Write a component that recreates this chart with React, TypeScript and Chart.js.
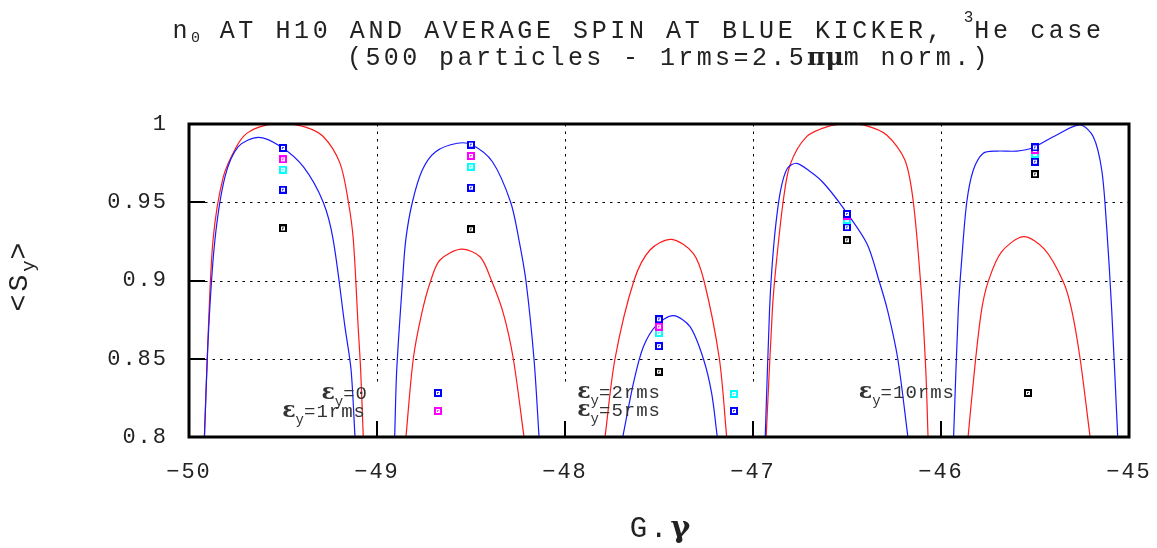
import React, { useEffect, useRef } from 'react';
import { Chart, registerables } from 'chart.js';

Chart.register(...registerables);

// ---------- data ----------
const resonanceGG = [-49.5, -48.5, -47.5, -46.5, -45.5];
const spinEps0 = [0.9847, 0.9868, 0.8752, 0.9425, 0.985];
const spinEps1 = [0.9774, 0.9796, 0.8705, 0.9412, 0.9834];
const spinEps2 = [0.9708, 0.9727, 0.8664, 0.9387, 0.9808];
const spinEps5 = [0.958, 0.9593, 0.8581, 0.934, 0.9759];
const spinEps10 = [0.9333, 0.9327, 0.8417, 0.9257, 0.9679];

const xTickValues = [-50, -49, -48, -47, -46, -45];
const yTickValues = [0.8, 0.85, 0.9, 0.95, 1.0];

const redRes1: [number, number][] = [
  [-49.918, 0.8], [-49.9, 0.86], [-49.872, 0.926], [-49.818, 0.966], [-49.75, 0.985],
  [-49.693, 0.994], [-49.6, 0.999], [-49.49, 1.0], [-49.38, 0.998], [-49.286, 0.992],
  [-49.197, 0.975], [-49.152, 0.95], [-49.126, 0.926], [-49.1, 0.87], [-49.087, 0.843], [-49.073, 0.8],
];
const redRes2: [number, number][] = [
  [-48.846, 0.8], [-48.807, 0.85], [-48.762, 0.879], [-48.714, 0.9], [-48.665, 0.9131],
  [-48.553, 0.92], [-48.452, 0.9152], [-48.391, 0.9], [-48.328, 0.879], [-48.275, 0.85], [-48.218, 0.8],
];
const redRes3: [number, number][] = [
  [-47.787, 0.8], [-47.734, 0.85], [-47.633, 0.9], [-47.548, 0.9195], [-47.433, 0.9263],
  [-47.318, 0.9174], [-47.261, 0.9], [-47.179, 0.85], [-47.14, 0.8],
];
const redRes4: [number, number][] = [
  [-46.93, 0.8], [-46.897, 0.8812], [-46.878, 0.9088], [-46.84, 0.95], [-46.803, 0.9738],
  [-46.715, 0.9919], [-46.6, 0.9985], [-46.502, 1.0], [-46.4, 0.999], [-46.289, 0.993],
  [-46.192, 0.977], [-46.147, 0.95], [-46.103, 0.8897], [-46.08, 0.84], [-46.069, 0.8],
];
const redRes5: [number, number][] = [
  [-45.856, 0.8], [-45.82, 0.845], [-45.784, 0.8812], [-45.749, 0.8993], [-45.68, 0.918],
  [-45.562, 0.928], [-45.45, 0.92], [-45.35, 0.8993], [-45.305, 0.8812], [-45.26, 0.85], [-45.207, 0.8],
];

const blueRes1: [number, number][] = [
  [-49.918, 0.8], [-49.895, 0.87], [-49.862, 0.926], [-49.809, 0.966], [-49.738, 0.9855],
  [-49.631, 0.9915], [-49.511, 0.9855], [-49.392, 0.9727], [-49.286, 0.95], [-49.233, 0.926],
  [-49.17, 0.87], [-49.138, 0.843], [-49.117, 0.8],
];
const blueRes2: [number, number][] = [
  [-48.906, 0.8], [-48.895, 0.843], [-48.864, 0.9], [-48.847, 0.926], [-48.812, 0.95],
  [-48.759, 0.9706], [-48.688, 0.9823], [-48.573, 0.9877], [-48.493, 0.9866], [-48.386, 0.9759],
  [-48.289, 0.95], [-48.245, 0.926], [-48.208, 0.9], [-48.165, 0.85], [-48.138, 0.8],
];
const blueRes3: [number, number][] = [
  [-47.693, 0.8], [-47.633, 0.836], [-47.583, 0.8577], [-47.512, 0.8716], [-47.424, 0.8775],
  [-47.335, 0.8705], [-47.264, 0.85], [-47.22, 0.828], [-47.19, 0.8],
];
const blueRes4: [number, number][] = [
  [-46.935, 0.8], [-46.912, 0.8812], [-46.9, 0.9067], [-46.88, 0.9344], [-46.853, 0.9578],
  [-46.817, 0.9717], [-46.768, 0.9749], [-46.7, 0.97], [-46.631, 0.9631], [-46.525, 0.9472],
  [-46.395, 0.9238], [-46.33, 0.9], [-46.285, 0.8812], [-46.23, 0.85], [-46.176, 0.8],
];
const blueRes5: [number, number][] = [
  [-45.933, 0.8], [-45.908, 0.8812], [-45.89, 0.913], [-45.863, 0.95], [-45.828, 0.9706],
  [-45.775, 0.9813], [-45.704, 0.9827], [-45.597, 0.9827], [-45.509, 0.985], [-45.385, 0.993],
  [-45.261, 0.9994], [-45.19, 0.9919], [-45.145, 0.9706], [-45.119, 0.9344], [-45.092, 0.8812], [-45.06, 0.8],
];

const redCurves = [redRes1, redRes2, redRes3, redRes4, redRes5];
const blueCurves = [blueRes1, blueRes2, blueRes3, blueRes4, blueRes5];

const seriesLabels = ['0', '1rms', '2rms', '5rms', '10rms'];
const seriesColors = ['#0000ff', '#ff00ff', '#00ffff', '#0000ff', '#000000'];
const seriesValues = [spinEps0, spinEps1, spinEps2, spinEps5, spinEps10];

// ---------- styling ----------
const MONO = '"Liberation Mono", monospace';
const SERIF = '"DejaVu Serif", serif';
const TEXT = '#222';

type Seg = { t: string; f: string; ls?: number; dy?: number };

function drawRich(ctx: CanvasRenderingContext2D, segs: Seg[], x: number, y: number, align: 'left' | 'center' | 'right') {
  const widths = segs.map((s) => {
    ctx.font = s.f;
    (ctx as any).letterSpacing = (s.ls || 0) + 'px';
    return ctx.measureText(s.t).width;
  });
  const total = widths.reduce((a, b) => a + b, 0);
  let cx = align === 'center' ? x - total / 2 : align === 'right' ? x - total : x;
  ctx.textAlign = 'left';
  ctx.textBaseline = 'alphabetic';
  segs.forEach((s, i) => {
    ctx.font = s.f;
    (ctx as any).letterSpacing = (s.ls || 0) + 'px';
    ctx.fillText(s.t, cx, y + (s.dy || 0));
    cx += widths[i];
  });
}

function makeMarker(color: string): HTMLCanvasElement {
  const c = document.createElement('canvas');
  c.width = 8;
  c.height = 8;
  const g = c.getContext('2d')!;
  g.fillStyle = color;
  g.fillRect(0, 0, 8, 8);
  g.fillStyle = '#ffffff';
  g.fillRect(2, 2, 4, 4);
  g.fillStyle = color;
  g.globalAlpha = 0.7;
  g.fillRect(3, 3, 2, 1);
  g.fillRect(3, 4, 1, 1);
  return c;
}

const legendItems = [
  { right: 368, base: 399, mx: 438, my: 393, idx: 0 },
  { right: 366, base: 417, mx: 438, my: 411, idx: 1 },
  { right: 661, base: 398, mx: 734, my: 394, idx: 2 },
  { right: 661, base: 416, mx: 734, my: 411, idx: 3 },
  { right: 955, base: 398, mx: 1028, my: 393, idx: 4 },
];

export default function App() {
  const ref = useRef<HTMLCanvasElement>(null);

  useEffect(() => {
    document.body.style.margin = '0';
    const canvas = ref.current!;
    const markers = seriesColors.map(makeMarker);

    const scatterSets = seriesValues.map((vals, i) => ({
      type: 'scatter' as const,
      label: 'eps ' + seriesLabels[i],
      data: resonanceGG.map((g, j) => ({ x: g, y: vals[j] })),
      pointStyle: markers[i],
      pointRadius: 4,
      showLine: false,
    }));
    const curveSet = (pts: [number, number][], color: string) => ({
      type: 'line' as const,
      data: pts.map(([x, y]) => ({ x, y })),
      borderColor: color,
      borderWidth: 1.2,
      pointRadius: 0,
      fill: false,
      showLine: true,
      tension: 0.3,
    });
    const curveSets = [
      ...blueCurves.map((c) => curveSet(c, '#1a1aff')),
      ...redCurves.map((c) => curveSet(c, '#ff1a1a')),
    ];

    const decor = {
      id: 'decor',
      beforeDraw(chart: any) {
        (chart.ctx as any).letterSpacing = '2px';
      },
      beforeDatasetsDraw(chart: any) {
        const { ctx, chartArea: a, scales } = chart;
        const xs = scales.x, ys = scales.y;
        ctx.save();
        (ctx as any).letterSpacing = '0px';
        ctx.strokeStyle = '#000';
        ctx.lineWidth = 1;
        ctx.setLineDash([2.5, 5]);
        const gridBottom = ys.getPixelForValue(0.833);
        xs.ticks.forEach((t: any) => {
          if (t.value <= xs.min || t.value >= xs.max) return;
          const px = Math.round(xs.getPixelForValue(t.value)) + 0.5;
          ctx.beginPath();
          ctx.moveTo(px, a.top);
          ctx.lineTo(px, gridBottom);
          ctx.stroke();
        });
        ys.ticks.forEach((t: any) => {
          if (t.value <= ys.min) return;
          const py = Math.round(ys.getPixelForValue(t.value)) + 0.5;
          ctx.beginPath();
          ctx.moveTo(a.left + 16, py);
          ctx.lineTo(a.right, py);
          ctx.stroke();
        });
        ctx.restore();
      },
      afterDatasetsDraw(chart: any) {
        const { ctx, chartArea: a, scales } = chart;
        const xs = scales.x, ys = scales.y;
        ctx.save();
        ctx.strokeStyle = '#000';
        ctx.lineWidth = 2;
        ctx.setLineDash([]);
        xs.ticks.forEach((t: any) => {
          const px = Math.round(xs.getPixelForValue(t.value));
          ctx.beginPath();
          ctx.moveTo(px, a.bottom);
          ctx.lineTo(px, a.bottom - 16);
          ctx.stroke();
        });
        ys.ticks.forEach((t: any) => {
          const py = Math.round(ys.getPixelForValue(t.value));
          ctx.beginPath();
          ctx.moveTo(a.left, py);
          ctx.lineTo(a.left + 16, py);
          ctx.stroke();
        });
        ctx.lineWidth = 3;
        ctx.strokeRect(a.left, a.top, a.right - a.left, a.bottom - a.top);
        ctx.restore();
      },
      afterDraw(chart: any) {
        const ctx: CanvasRenderingContext2D = chart.ctx;
        ctx.save();
        ctx.fillStyle = TEXT;
        // title
        drawRich(ctx, [
          { t: 'n', f: `25px ${MONO}`, ls: 3.6 },
          { t: '0', f: `15px ${MONO}`, ls: 1, dy: 4.5 },
          { t: ' AT H10 AND AVERAGE SPIN AT BLUE KICKER, ', f: `25px ${MONO}`, ls: 3.6 },
          { t: '3', f: `16px ${MONO}`, ls: 1, dy: -16 },
          { t: 'He case', f: `25px ${MONO}`, ls: 3.6 },
        ], 638.5, 37.5, 'center');
        drawRich(ctx, [
          { t: '(500 particles - 1rms=2.5', f: `25px ${MONO}`, ls: 3.4 },
          { t: 'πμ', f: `bold 25px ${SERIF}`, ls: 0 },
          { t: 'm norm.)', f: `25px ${MONO}`, ls: 3.4 },
        ], 669, 65, 'center');
        // x label
        drawRich(ctx, [
          { t: 'G.', f: `29px ${MONO}`, ls: 3 },
          { t: 'γ', f: `bold 30px ${SERIF}`, ls: 0 },
        ], 660, 537, 'center');
        // y label
        ctx.save();
        ctx.translate(27, 277);
        ctx.rotate(-Math.PI / 2);
        drawRich(ctx, [
          { t: '<S', f: `28px ${MONO}`, ls: 3 },
          { t: 'y', f: `19px ${MONO}`, ls: 1, dy: 7 },
          { t: '>', f: `28px ${MONO}`, ls: 0 },
        ], 0, 0, 'center');
        ctx.restore();
        // legend
        legendItems.forEach((it) => {
          ctx.fillStyle = '#333';
          drawRich(ctx, [
            { t: 'ε', f: `bold 22px ${SERIF}`, ls: 0 },
            { t: 'y', f: `14px ${MONO}`, ls: 0, dy: 7 },
            { t: '=' + seriesLabels[it.idx], f: `19px ${MONO}`, ls: 1 },
          ], it.right, it.base, 'right');
          ctx.drawImage(markers[it.idx], Math.round(it.mx - 4), Math.round(it.my - 4));
        });
        ctx.restore();
      },
    };

    const chart = new Chart(canvas, {
      type: 'scatter',
      data: { datasets: [...scatterSets, ...curveSets] as any },
      options: {
        animation: false,
        responsive: false,
        devicePixelRatio: 1,
        layout: { padding: { top: 124, right: 28, left: 0, bottom: 0 } },
        plugins: { legend: { display: false }, tooltip: { enabled: false }, title: { display: false } },
        events: [],
        scales: {
          x: {
            type: 'linear',
            min: -50,
            max: -45,
            afterBuildTicks: (s: any) => { s.ticks = xTickValues.map((v) => ({ value: v })); },
            afterFit: (s: any) => { s.height = 111; s.paddingLeft = 0; s.paddingRight = 0; },
            grid: { display: false, drawTicks: false },
            border: { display: false },
            ticks: {
              padding: 22,
              color: TEXT,
              font: { family: MONO, size: 22 },
              maxRotation: 0,
              autoSkip: false,
              callback: (v: any) => (v < 0 ? '−' + Math.abs(v) : String(v)),
            },
          },
          y: {
            type: 'linear',
            min: 0.8,
            max: 1.0,
            afterBuildTicks: (s: any) => { s.ticks = yTickValues.map((v) => ({ value: v })); },
            afterFit: (s: any) => { s.width = 189; s.paddingTop = 0; s.paddingBottom = 0; },
            grid: { display: false, drawTicks: false },
            border: { display: false },
            ticks: {
              padding: 21,
              color: TEXT,
              font: { family: MONO, size: 22 },
              autoSkip: false,
              callback: (v: any) => String(+Number(v).toFixed(2)),
            },
          },
        },
      } as any,
      plugins: [decor],
    });
    return () => chart.destroy();
  }, []);

  return <canvas ref={ref} width={1157} height={548} style={{ display: 'block' }} />;
}
